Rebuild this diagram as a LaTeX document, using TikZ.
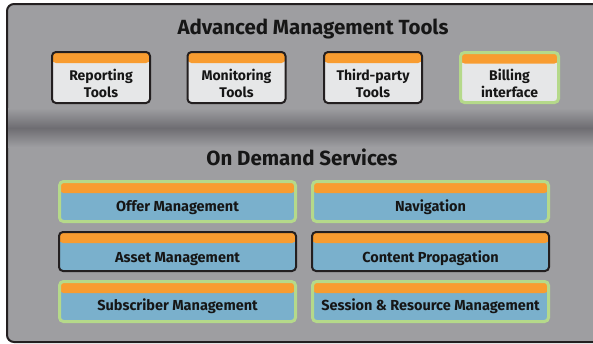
\documentclass[tikz,border=0pt]{standalone}
\usepackage{fontspec}
\setmainfont{Fira Sans}
\definecolor{bgc}{HTML}{9E9EA1}
\definecolor{bandc}{HTML}{6E6D72}
\definecolor{framec}{HTML}{231F20}
\definecolor{darkc}{HTML}{231F20}
\definecolor{greenc}{HTML}{B5D98A}
\definecolor{orangec}{HTML}{F89C30}
\definecolor{lightc}{HTML}{E6E7E8}
\definecolor{bluec}{HTML}{7AB0CC}
\definecolor{txtc}{HTML}{161616}
\begin{document}
\begin{tikzpicture}[x=1pt,y=-1pt,
  boxbase/.style={rounded corners=4pt, inner sep=0pt, outer sep=0pt,
    path picture={\fill[orangec] (path picture bounding box.north west) rectangle ([yshift=-#1]path picture bounding box.north east);}},
  darkedge/.style={draw=darkc, line width=2pt},
  greenedge/.style={draw=greenc, line width=3pt},
  toolbox/.style={boxbase=11pt, fill=lightc, minimum width=98pt, minimum height=51pt},
  svcbox/.style={boxbase=11.5pt, fill=bluec, minimum width=236pt, minimum height=40pt},
  boxlabel/.style={font=\bfseries\fontsize{14}{17}\selectfont, text=txtc, align=center, inner sep=0pt},
  svclabel/.style={font=\bfseries\fontsize{14.5}{15}\selectfont, text=txtc, inner sep=0pt, anchor=base},
  titlelabel/.style={font=\bfseries\fontsize{20.5}{22}\selectfont, text=txtc, inner sep=0pt, anchor=base}
]
\useasboundingbox (0,0) rectangle (593,343);
\begin{scope}
  \clip (0,0) rectangle (593,343);
  \draw[fill=bgc, line width=2pt, draw=framec, rounded corners=7pt] (7,4) rectangle (620,342);
  \fill[top color=bgc, bottom color=bandc] (8,108) rectangle (593,128);
  \fill[top color=bandc, bottom color=bgc] (8,128) rectangle (593,147);
\end{scope}

\node[titlelabel] (t1) at (313,34) {Advanced Management Tools};
\node[titlelabel] (t2) at (302,165.5) {On Demand Services};

% top tool boxes
\node[toolbox, darkedge] (rep) at (101,77.5) {};
\node[toolbox, darkedge] (mon) at (236.5,77.5) {};
\node[toolbox, darkedge] (thp) at (373,77.5) {};
\node[toolbox, greenedge, minimum height=50pt] (bil) at (509.5,77.5) {};
\node[boxlabel] (repl) at ([yshift=-6pt]rep.center) {Reporting\\Tools};
\node[boxlabel] (monl) at ([yshift=-6pt]mon.center) {Monitoring\\Tools};
\node[boxlabel] (thpl) at ([yshift=-6pt]thp.center) {Third-party\\Tools};
\node[boxlabel] (bill) at ([yshift=-6pt]bil.center) {Billing\\interface};

% service boxes
\node[svcbox, greenedge] (off) at (177.5,201.5) {};
\node[svcbox, darkedge, minimum width=237pt, minimum height=39pt, boxbase=11pt] (ass) at (177.5,251.5) {};
\node[svcbox, greenedge] (sub) at (177.5,301.5) {};
\node[svcbox, greenedge] (nav) at (430.5,201.5) {};
\node[svcbox, darkedge, minimum width=237pt, minimum height=39pt, boxbase=11pt] (con) at (430.5,251.5) {};
\node[svcbox, greenedge] (ses) at (430.5,301.5) {};
\node[svclabel] (offl) at ([yshift=-9.5pt]off.center) {Offer Management};
\node[svclabel] (assl) at ([yshift=-10.5pt]ass.center) {Asset Management};
\node[svclabel] (subl) at ([yshift=-9pt]sub.center) {Subscriber Management};
\node[svclabel] (navl) at ([yshift=-9.5pt]nav.center) {Navigation};
\node[svclabel] (conl) at ([yshift=-10.5pt]con.center) {Content Propagation};
\node[svclabel] (sesl) at ([yshift=-9pt]ses.center) {Session \& Resource Management};
\end{tikzpicture}
\end{document}
